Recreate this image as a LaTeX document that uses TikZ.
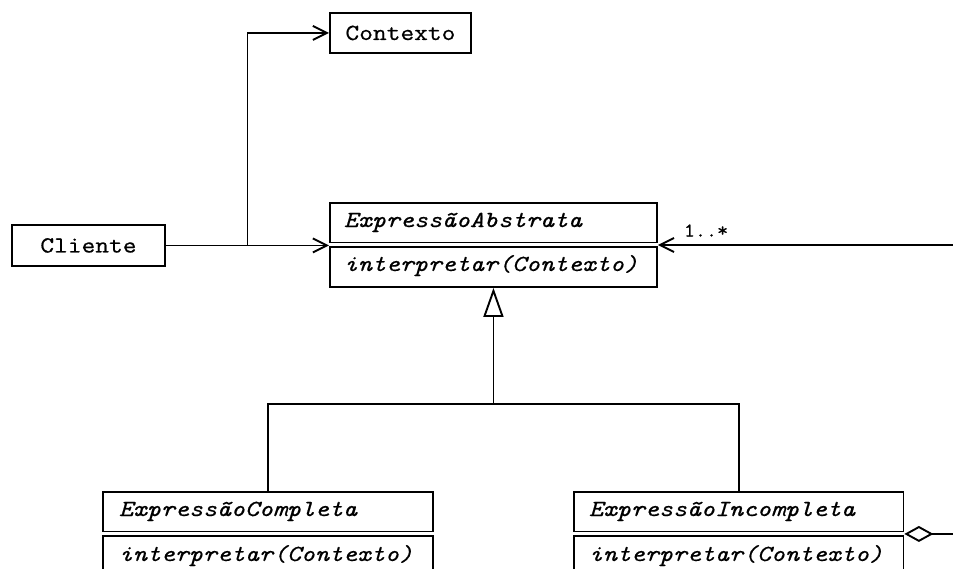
\documentclass[tikz,border=0pt]{standalone}
\usepackage{fontspec}
% wide typewriter faces for the class names and operations
\newfontfamily\umlfont{Latin Modern Mono}[FakeStretch=1.16, FakeBold=0.7]
\newfontfamily\opfont{Latin Modern Mono}[FakeStretch=1.16, FakeBold=0.3]
\newfontfamily\multfont{Latin Modern Mono}[FakeStretch=1.1, FakeBold=0.5]
\usetikzlibrary{arrows.meta,calc}
\begin{document}
\begin{tikzpicture}[x=1pt,y=-1pt,
  line width=1.9pt,
  mono/.style={font=\umlfont\fontsize{23}{27}\selectfont},
  simplebox/.style={draw, mono, inner sep=0pt, anchor=north west},
  classbox/.style={draw, inner sep=0pt, anchor=north west,
    minimum width=#1, minimum height=84pt},
  classtitle/.style={font=\umlfont\itshape\fontsize{23}{27}\selectfont,
    inner sep=0pt, anchor=base west},
  classop/.style={font=\opfont\itshape\fontsize{23}{27}\selectfont,
    inner sep=0pt, anchor=base west},
  divider/.style={double, double distance=3pt, line width=1.3pt},
  assoc/.style={-{Straight Barb[length=14pt, width=14pt]}},
  inherit/.style={-{Triangle[open, length=29pt, width=20pt]}},
  aggr/.style={-{Diamond[open, length=29pt, width=16pt]}},
  mult/.style={font=\multfont\fontsize{19.5}{22}\selectfont, inner sep=0pt, anchor=base west}
]
\clip (0,0) rectangle (953,568);
\fill[white] (0,0) rectangle (953,568);

% plain boxes
\node[simplebox, minimum width=141pt, minimum height=40pt] (ctx) at (329,12) {Contexto};
\node[simplebox, minimum width=153pt, minimum height=41pt] (cli) at (11,224) {Cliente};

% abstract expression
\node[classbox=327pt] (abs) at (329,202) {};
\draw[divider] (abs.west) -- (abs.east);
\node[classtitle] (absT) at ($(abs.north west)+(14,25)$) {ExpressãoAbstrata};
\node[classop] (absM) at ($(abs.north west)+(14,69)$) {interpretar(Contexto)};

% terminal expression
\node[classbox=330pt] (comp) at (102,491) {};
\draw[divider] (comp.west) -- (comp.east);
\node[classtitle] (compT) at ($(comp.north west)+(16,25)$) {ExpressãoCompleta};
\node[classop] (compM) at ($(comp.north west)+(16,70)$) {interpretar(Contexto)};

% nonterminal expression
\node[classbox=329.5pt] (inc) at (573,491) {};
\draw[divider] (inc.west) -- (inc.east);
\node[classtitle] (incT) at ($(inc.north west)+(15,25)$) {ExpressãoIncompleta};
\node[classop] (incM) at ($(inc.north west)+(15,70)$) {interpretar(Contexto)};

% client associations
\coordinate (br) at ($(cli.east)!0.5!(cli.east -| abs.west)$);
\draw[assoc] (cli.east) -- (cli.east -| abs.west);
\draw[assoc] (br) |- (ctx.west);

% composite children (1..*)
\coordinate (redgeA) at (953,0 |- abs.east);
\draw[assoc] (redgeA) -- (abs.east);
\node[mult] (m1) at (683,236.5) {1..*};

% aggregation from the nonterminal
\coordinate (redgeB) at (953,0 |- inc.east);
\draw[aggr] (redgeB) -- (inc.east);

% generalisation
\coordinate (bus) at (abs.south |- 0,404);
\draw (comp.north) |- (bus) -| (inc.north);
\draw[inherit] (bus) -- (abs.south);
\end{tikzpicture}
\end{document}
